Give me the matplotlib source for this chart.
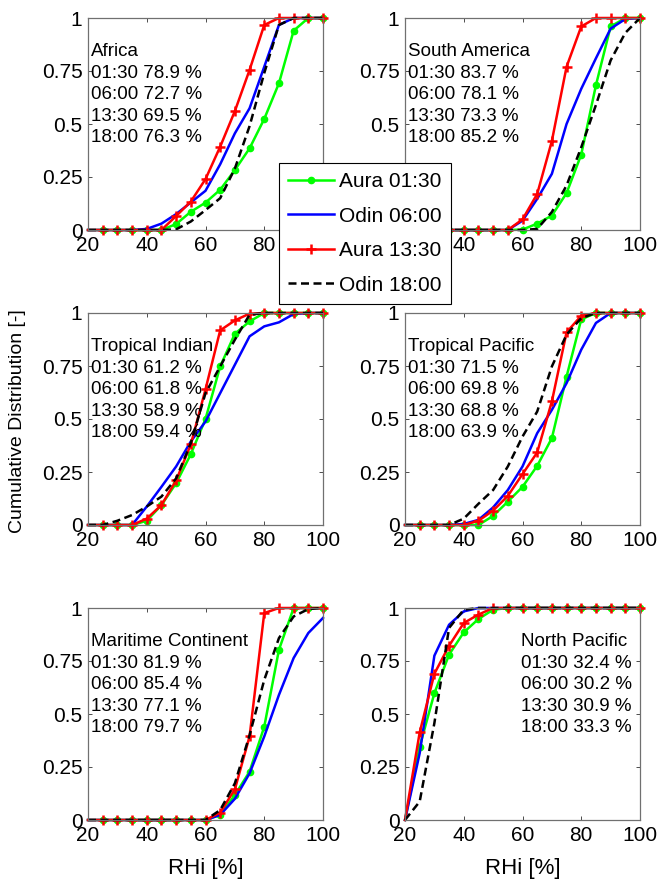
import matplotlib
matplotlib.use("Agg")
import matplotlib.pyplot as plt

plt.rcParams['font.family'] = ['Liberation Sans', 'DejaVu Sans']

rhi = [20, 25, 30, 35, 40, 45, 50, 55, 60, 65, 70, 75, 80, 85, 90, 95, 100]

series_labels = ["Aura 01:30", "Odin 06:00", "Aura 13:30", "Odin 18:00"]
times = ["01:30", "06:00", "13:30", "18:00"]

regions = ["Africa", "South America", "Tropical Indian", "Tropical Pacific",
           "Maritime Continent", "North Pacific"]

pct_africa = [78.9, 72.7, 69.5, 76.3]
pct_samerica = [83.7, 78.1, 73.3, 85.2]
pct_tindian = [61.2, 61.8, 58.9, 59.4]
pct_tpacific = [71.5, 69.8, 68.8, 63.9]
pct_maritime = [81.9, 85.4, 77.1, 79.7]
pct_npacific = [32.4, 30.2, 30.9, 33.3]

# Africa
africa_aura0130 = [0, 0, 0, 0, 0, 0, 0.028, 0.086, 0.129, 0.19, 0.283, 0.385, 0.524, 0.692, 0.94, 1, 1]
africa_odin0600 = [0, 0, 0, 0, 0.005, 0.03, 0.075, 0.13, 0.185, 0.31, 0.456, 0.574, 0.77, 0.967, 1, 1, 1]
africa_aura1330 = [0, 0, 0, 0, 0, 0, 0.066, 0.134, 0.24, 0.393, 0.561, 0.755, 0.967, 1, 1, 1, 1]
africa_odin1800 = [0, 0, 0, 0, 0, 0, 0.003, 0.04, 0.094, 0.15, 0.29, 0.49, 0.74, 0.967, 1, 1, 1]

# South America
samerica_aura0130 = [0, 0, 0, 0, 0, 0, 0, 0, 0.002, 0.03, 0.068, 0.174, 0.356, 0.683, 0.96, 1, 1]
samerica_odin0600 = [0, 0, 0, 0, 0, 0, 0, 0, 0.044, 0.147, 0.265, 0.5, 0.666, 0.81, 0.95, 0.995, 1]
samerica_aura1330 = [0, 0, 0, 0, 0, 0, 0, 0, 0.05, 0.17, 0.42, 0.77, 0.96, 1, 1, 1, 1]
samerica_odin1800 = [0, 0, 0, 0, 0, 0, 0, 0, 0, 0.005, 0.085, 0.21, 0.39, 0.59, 0.8, 0.93, 1]

# Tropical Indian
tindian_aura0130 = [0, 0, 0, 0, 0.02, 0.094, 0.197, 0.334, 0.5, 0.748, 0.902, 0.96, 1, 1, 1, 1, 1]
tindian_odin0600 = [0, 0, 0, 0, 0.087, 0.18, 0.276, 0.394, 0.488, 0.622, 0.756, 0.89, 0.937, 0.956, 0.995, 1, 1]
tindian_aura1330 = [0, 0, 0, 0, 0.03, 0.094, 0.21, 0.38, 0.64, 0.918, 0.965, 0.997, 1, 1, 1, 1, 1]
tindian_odin1800 = [0, 0, 0.02, 0.047, 0.087, 0.134, 0.22, 0.386, 0.622, 0.748, 0.874, 0.992, 1, 1, 1, 1, 1]

# Tropical Pacific
tpacific_aura0130 = [0, 0, 0, 0, 0, 0, 0.043, 0.11, 0.18, 0.279, 0.41, 0.70, 0.97, 1, 1, 1, 1]
tpacific_odin0600 = [0, 0, 0, 0, 0.005, 0.024, 0.083, 0.165, 0.276, 0.433, 0.543, 0.669, 0.827, 0.953, 1, 1, 1]
tpacific_aura1330 = [0, 0, 0, 0, 0, 0.02, 0.068, 0.137, 0.24, 0.342, 0.583, 0.909, 0.987, 1, 1, 1, 1]
tpacific_odin1800 = [0, 0, 0, 0, 0.03, 0.1, 0.165, 0.276, 0.417, 0.535, 0.748, 0.898, 0.976, 1, 1, 1, 1]

# Maritime Continent
maritime_aura0130 = [0, 0, 0, 0, 0, 0, 0, 0, 0, 0.024, 0.118, 0.228, 0.44, 0.803, 1, 1, 1]
maritime_odin0600 = [0, 0, 0, 0, 0, 0, 0, 0, 0, 0.024, 0.10, 0.22, 0.394, 0.59, 0.764, 0.882, 0.953]
maritime_aura1330 = [0, 0, 0, 0, 0, 0, 0, 0, 0, 0.035, 0.145, 0.394, 0.976, 1, 1, 1, 1]
maritime_odin1800 = [0, 0, 0, 0, 0, 0, 0, 0, 0, 0.047, 0.173, 0.40, 0.661, 0.858, 0.96, 0.995, 1]

# North Pacific
npacific_aura0130 = [0, 0.346, 0.598, 0.78, 0.885, 0.948, 0.992, 1, 1, 1, 1, 1, 1, 1, 1, 1, 1]
npacific_odin0600 = [0, 0.315, 0.775, 0.921, 0.984, 1, 1, 1, 1, 1, 1, 1, 1, 1, 1, 1, 1]
npacific_aura1330 = [0, 0.413, 0.69, 0.822, 0.929, 0.969, 1, 1, 1, 1, 1, 1, 1, 1, 1, 1, 1]
npacific_odin1800 = [0, 0.087, 0.457, 0.906, 0.992, 1, 1, 1, 1, 1, 1, 1, 1, 1, 1, 1, 1]

panel_data = [
    (africa_aura0130, africa_odin0600, africa_aura1330, africa_odin1800),
    (samerica_aura0130, samerica_odin0600, samerica_aura1330, samerica_odin1800),
    (tindian_aura0130, tindian_odin0600, tindian_aura1330, tindian_odin1800),
    (tpacific_aura0130, tpacific_odin0600, tpacific_aura1330, tpacific_odin1800),
    (maritime_aura0130, maritime_odin0600, maritime_aura1330, maritime_odin1800),
    (npacific_aura0130, npacific_odin0600, npacific_aura1330, npacific_odin1800),
]
panel_pct = [pct_africa, pct_samerica, pct_tindian, pct_tpacific, pct_maritime, pct_npacific]

W, H = 659, 881
fig = plt.figure(figsize=(W / 100, H / 100), dpi=100)

col_left = [88, 405]
row_top = [18, 313, 608]
ax_w, ax_h = 235, 212

styles = [
    dict(color='#00ff00', lw=1.8, marker='o', ms=4.5, mec='#00ff00', mfc='#00ff00', markevery=slice(1, None)),
    dict(color='#0000ff', lw=1.8),
    dict(color='#ff0000', lw=1.8, marker='+', ms=7, mew=1.8, markevery=slice(1, None)),
    dict(color='black', lw=1.8, ls=(0, (3.2, 1.8))),
]

tick_fs = 15
text_fs = 13.5
axes_list = []
handles = None
for i in range(6):
    r, c = divmod(i, 2)
    l = col_left[c] / W
    b = 1 - (row_top[r] + ax_h) / H
    ax = fig.add_axes([l, b, ax_w / W, ax_h / H])
    hs = []
    for vals, st, lab in zip(panel_data[i], styles, series_labels):
        h, = ax.plot(rhi, vals, label=lab, clip_on=False, **st)
        hs.append(h)
    if handles is None:
        handles = hs
    ax.set_xlim(20, 100)
    ax.set_ylim(0, 1)
    ax.set_xticks([20, 40, 60, 80, 100])
    ax.set_yticks([0, 0.25, 0.5, 0.75, 1])
    ax.set_yticklabels(['0', '0.25', '0.5', '0.75', '1'])
    ax.tick_params(direction='in', length=3, width=0.6, top=True, right=True,
                   labelsize=tick_fs, colors='#303030', labelcolor='black')
    ax.tick_params(axis='y', pad=4)
    ax.tick_params(axis='x', pad=4)
    for s in ax.spines.values():
        s.set_color('#707070')
        s.set_linewidth(0.9)
    tx = 0.495 if i == 5 else 0.013
    ys = [0.84, 0.737, 0.637, 0.535, 0.437]
    lines = [regions[i]] + [f"{t} {p:.1f} %" for t, p in zip(times, panel_pct[i])]
    for yy, s in zip(ys, lines):
        ax.text(tx, yy, s, transform=ax.transAxes, fontsize=text_fs, va='center', ha='left')
    if r == 2:
        ax.set_xlabel('RHi [%]', fontsize=16, labelpad=10)
    axes_list.append(ax)

fig.text(18 / W, 1 - 421 / H, 'Cumulative Distribution [-]', rotation=90,
         fontsize=14, ha='center', va='center')

leg = fig.legend(handles=handles, labels=series_labels, loc='upper left',
                 bbox_to_anchor=(279 / W, 1 - 163 / H), bbox_transform=fig.transFigure,
                 fontsize=15, frameon=True, fancybox=False, framealpha=1,
                 edgecolor='black', handlelength=2.2, handletextpad=0.25,
                 labelspacing=0.74, borderpad=0.45, borderaxespad=0)
leg.get_frame().set_linewidth(0.8)
leg.set_zorder(10)

fig.savefig('out.png', dpi=100)
